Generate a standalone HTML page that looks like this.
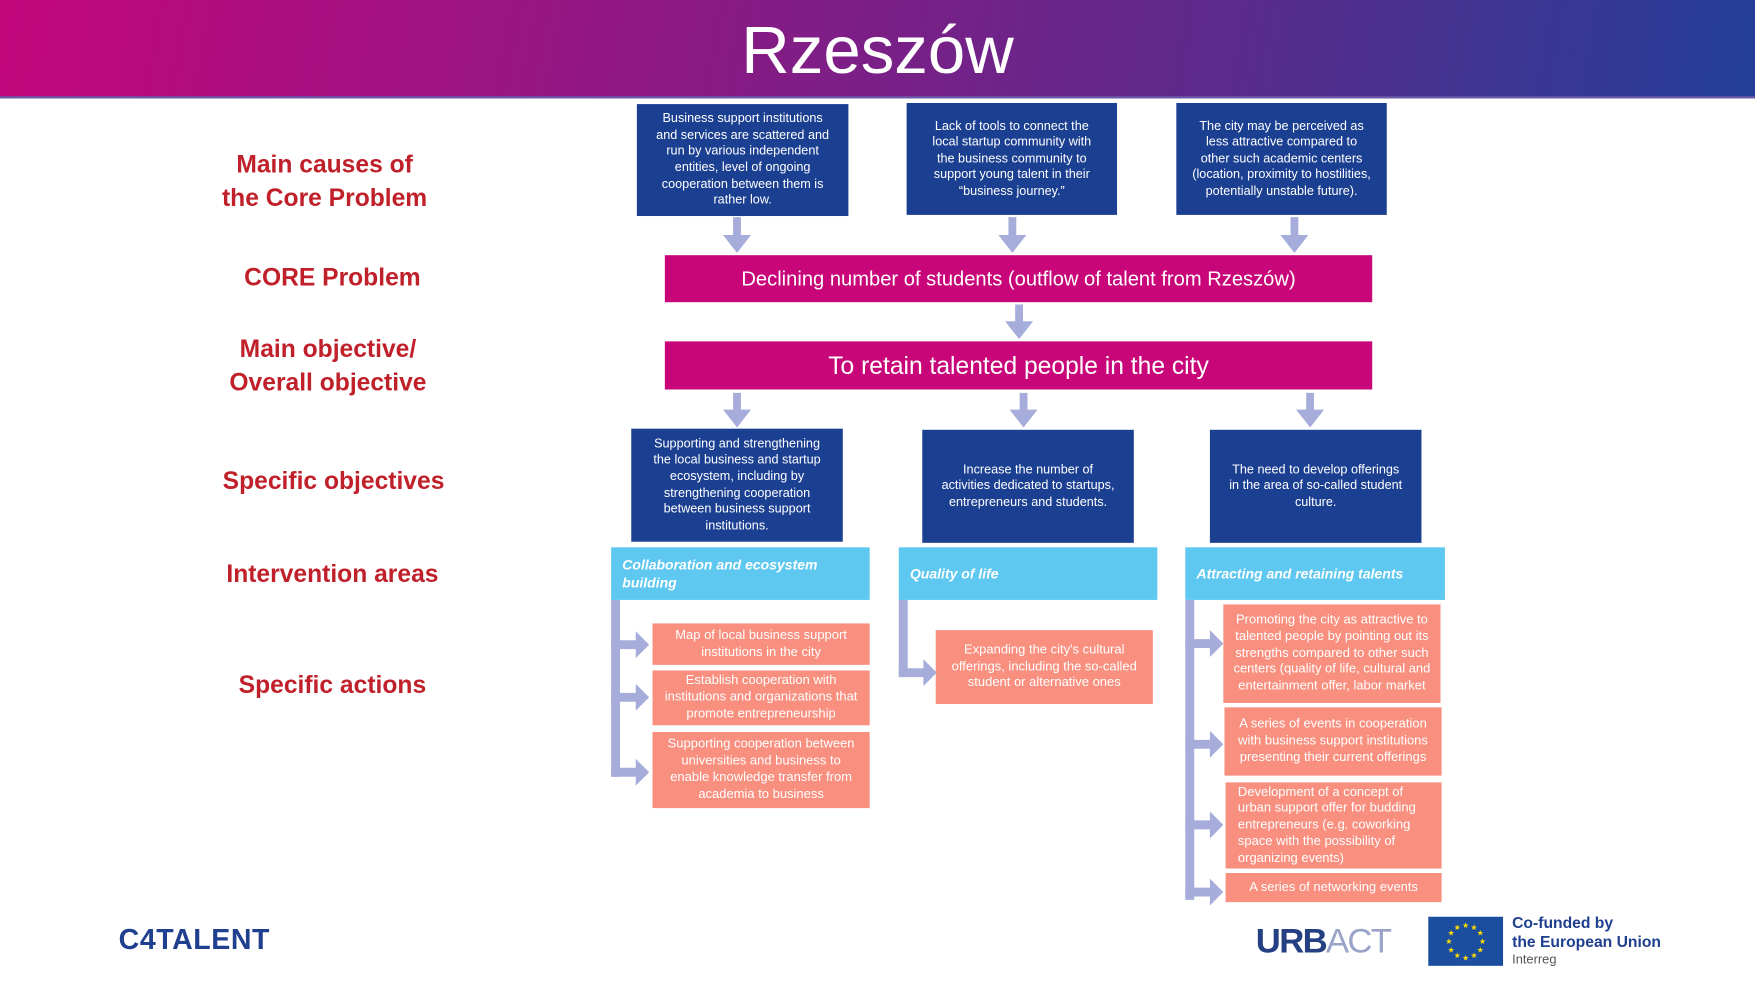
<!DOCTYPE html>
<html><head><meta charset="utf-8"><style>
html,body{margin:0;padding:0;width:1755px;height:991px;overflow:hidden;background:#fff}
#w{position:absolute;left:0;top:0;width:1568px;height:886px;transform:scale(1.11926);transform-origin:0 0;font-family:"Liberation Sans",sans-serif}
.a{position:absolute;box-sizing:border-box;display:flex;align-items:center;justify-content:center;text-align:center;color:#fff}
.db{background:#1b3f91;font-size:11.3px;line-height:14.6px;padding:0 14px}
.mg{background:#c8067a}
.lb{background:#5ec8f0;justify-content:flex-start;text-align:left;font-style:italic;font-weight:bold;font-size:12.5px;line-height:16px;padding:0 10px}
.sa{background:#f98f7f;font-size:11.6px;line-height:14.8px;padding:0 9px}
.lab{position:absolute;color:#c0202a;font-weight:bold;font-size:22px;line-height:30px;text-align:center;width:300px}
</style></head><body><div id="w">
<div style="position:absolute;left:0;top:0;width:1568px;height:87px;background:linear-gradient(100deg,#c2067c 0%,#8a1a84 40%,#5a2a8c 70%,#233f98 100%)"></div>
<div style="position:absolute;left:0;top:86px;width:1568px;height:2px;background:#6a5aa8"></div>
<div style="position:absolute;left:0;width:1568px;top:8px;text-align:center;color:#fff;font-size:60px;line-height:74px;padding-left:0">Rzeszów</div>

<div class="lab" style="left:140px;top:132px">Main causes of<br>the Core Problem</div>
<div class="lab" style="left:147px;top:233px">CORE Problem</div>
<div class="lab" style="left:143px;top:297px">Main objective/<br>Overall objective</div>
<div class="lab" style="left:148px;top:415px">Specific objectives</div>
<div class="lab" style="left:147px;top:498px">Intervention areas</div>
<div class="lab" style="left:147px;top:597px">Specific actions</div>

<div class="a db" style="left:569px;top:93px;width:189px;height:100px">Business support institutions and services are scattered and run by various independent entities, level of ongoing cooperation between them is rather low.</div>
<div class="a db" style="left:810px;top:92px;width:188px;height:100px">Lack of tools to connect the local startup community with the business community to support young talent in their “business journey.”</div>
<div class="a db" style="left:1051px;top:92px;width:188px;height:100px">The city may be perceived as less attractive compared to other such academic centers (location, proximity to hostilities, potentially unstable future).</div>

<div class="a mg" style="left:594px;top:228px;width:632px;height:42px;font-size:18px">Declining number of students (outflow of talent from Rzeszów)</div>
<div class="a mg" style="left:594px;top:305px;width:632px;height:43px;font-size:22px">To retain talented people in the city</div>

<div class="a db" style="left:564px;top:383px;width:189px;height:101px">Supporting and strengthening the local business and startup ecosystem, including by strengthening cooperation between business support institutions.</div>
<div class="a db" style="left:824px;top:384px;width:189px;height:101px">Increase the number of activities dedicated to startups, entrepreneurs and students.</div>
<div class="a db" style="left:1081px;top:384px;width:189px;height:101px">The need to develop offerings in the area of so-called student culture.</div>

<div class="a lb" style="left:546px;top:489px;width:231px;height:47px">Collaboration and ecosystem building</div>
<div class="a lb" style="left:803px;top:489px;width:231px;height:47px">Quality of life</div>
<div class="a lb" style="left:1059px;top:489px;width:232px;height:47px">Attracting and retaining talents</div>

<div class="a sa" style="left:583px;top:557px;width:194px;height:37px">Map of local business support institutions in the city</div>
<div class="a sa" style="left:583px;top:599px;width:194px;height:49px">Establish cooperation with institutions and organizations that promote entrepreneurship</div>
<div class="a sa" style="left:583px;top:654px;width:194px;height:68px">Supporting cooperation between universities and business to enable knowledge transfer from academia to business</div>
<div class="a sa" style="left:836px;top:563px;width:194px;height:66px">Expanding the city's cultural offerings, including the so-called student or alternative ones</div>
<div class="a sa" style="left:1093px;top:540px;width:194px;height:88px">Promoting the city as attractive to talented people by pointing out its strengths compared to other such centers (quality of life, cultural and entertainment offer, labor market</div>
<div class="a sa" style="left:1094px;top:632px;width:194px;height:61px">A series of events in cooperation with business support institutions presenting their current offerings</div>
<div class="a sa" style="left:1095px;top:699px;width:193px;height:77px;text-align:left;justify-content:flex-start;padding-left:11px">Development of a concept of urban support offer for budding entrepreneurs (e.g. coworking space with the possibility of organizing events)</div>
<div class="a sa" style="left:1095px;top:780px;width:193px;height:26px">A series of networking events</div>

<svg style="position:absolute;left:0;top:0" width="1568" height="886" fill="#a6addb">
<path d="M655 194h7v16h9l-12.5 16-12.5-16h9z"/>
<path d="M901 194h7v16h9l-12.5 16-12.5-16h9z"/>
<path d="M1153 194h7v16h9l-12.5 16-12.5-16h9z"/>
<path d="M907 272h7v15h9l-12.5 16-12.5-16h9z"/>
<path d="M655 351h7v15h9l-12.5 16-12.5-16h9z"/>
<path d="M911 351h7v15h9l-12.5 16-12.5-16h9z"/>
<path d="M1167 351h7v15h9l-12.5 16-12.5-16h9z"/>
<rect x="546" y="536" width="8" height="158"/>
<path d="M546 572h22v-8l12 12-12 12v-8h-22z"/>
<path d="M546 619h22v-8l12 12-12 12v-8h-22z"/>
<path d="M546 686h22v-8l12 12-12 12v-8h-22z"/>
<rect x="803" y="536" width="8" height="68"/>
<path d="M803 597h22v-8l12 12-12 12v-8h-22z"/>
<rect x="1059" y="536" width="8" height="268"/>
<path d="M1059 571h22v-8l12 12-12 12v-8h-22z"/>
<path d="M1059 661h22v-8l12 12-12 12v-8h-22z"/>
<path d="M1059 733h22v-8l12 12-12 12v-8h-22z"/>
<path d="M1059 793h22v-8l12 12-12 12v-8h-22z"/>
</svg>

<div style="position:absolute;left:106px;top:826px;color:#1f3f8f;font-weight:bold;font-size:25.5px;letter-spacing:0.5px">C4TALENT</div>
<div style="position:absolute;left:1122px;top:821px;font-weight:bold;font-size:31px;letter-spacing:-1.5px;line-height:40px"><span style="color:#243f82">URB</span><span style="color:#9aa3c8;font-weight:normal">ACT</span></div>
<svg style="position:absolute;left:1276px;top:819px" width="67" height="44"><rect width="67" height="44" fill="#1c4ea0"/>
<g fill="#ffdd00" font-size="7" text-anchor="middle" font-family="DejaVu Sans">
<text x="33.5" y="10">★</text><text x="41" y="12">★</text><text x="46.5" y="17">★</text><text x="48.5" y="24.5">★</text><text x="46.5" y="32">★</text><text x="41" y="37">★</text><text x="33.5" y="39">★</text><text x="26" y="37">★</text><text x="20.5" y="32">★</text><text x="18.5" y="24.5">★</text><text x="20.5" y="17">★</text><text x="26" y="12">★</text></g></svg>
<div style="position:absolute;left:1351px;top:816px;color:#1f3f8f;font-weight:bold;font-size:14px;line-height:17px">Co-funded by<br>the European Union</div>
<div style="position:absolute;left:1351px;top:852px;color:#555;font-size:11.5px">Interreg</div>
</div></body></html>
